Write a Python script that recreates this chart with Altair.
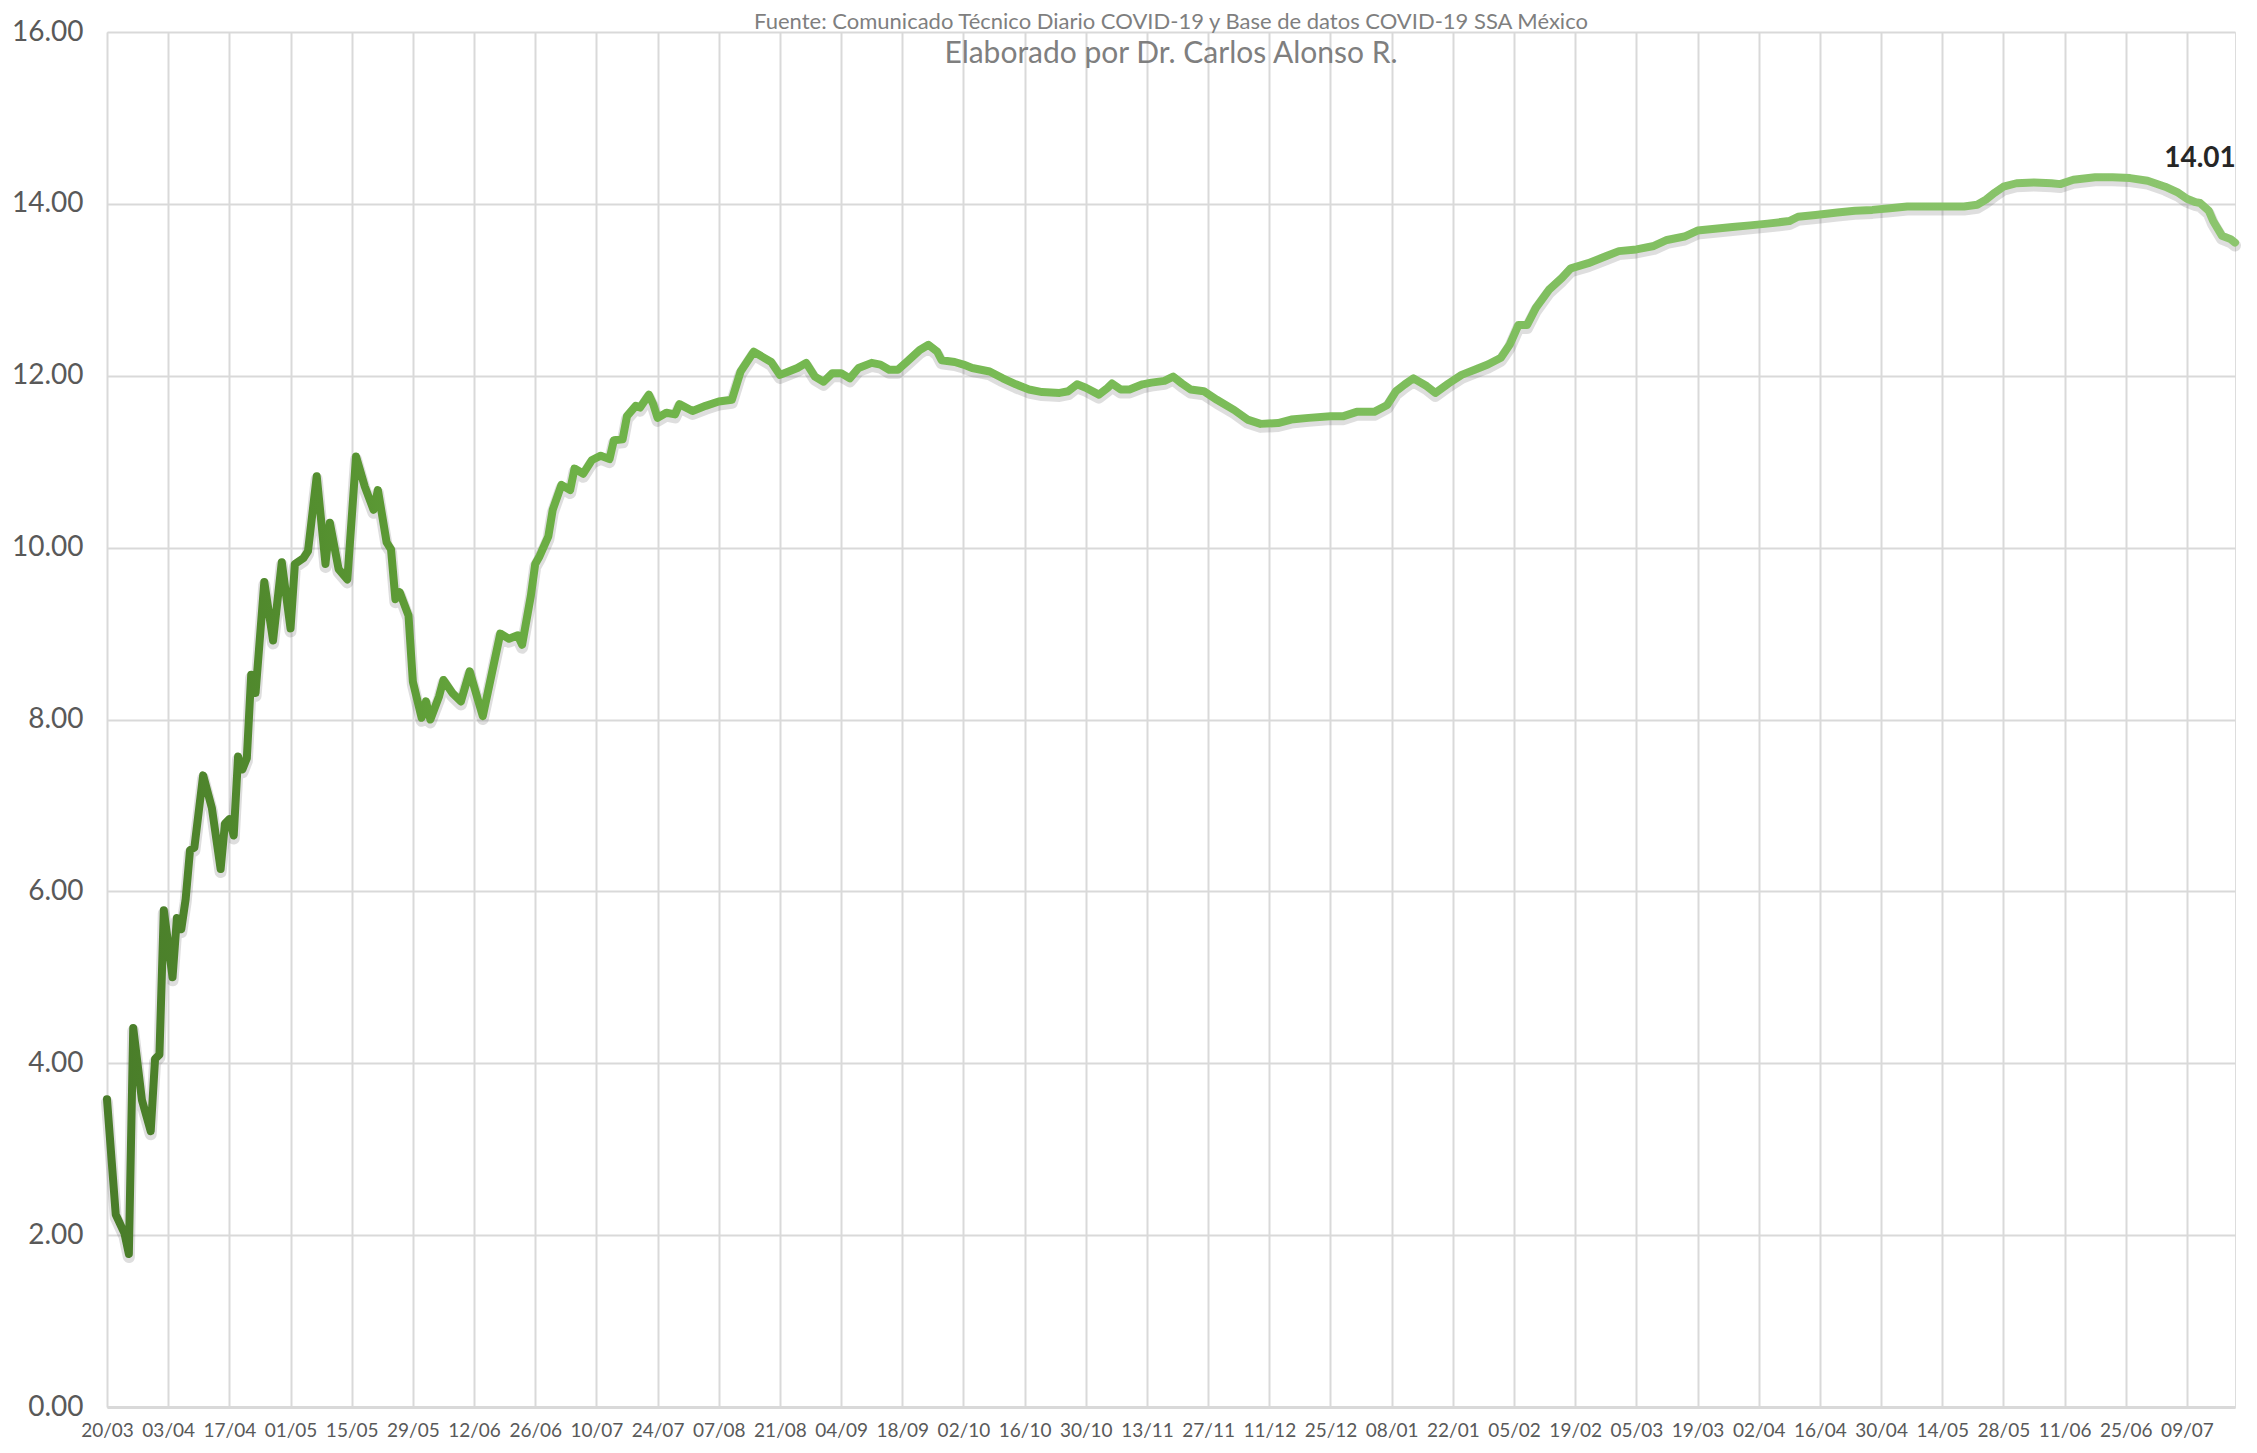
import altair as alt
import pandas as pd

# ---- data ----
start_date = "2020-03-20"
day_offset = [0, 2, 4, 5, 6, 8, 10, 11, 12, 13, 15, 16, 17, 18, 19, 20, 22, 24, 26, 27,
              28, 29, 30, 31, 32, 33, 34, 36, 38, 40, 42, 43, 45, 46, 48, 50, 51, 53, 55, 57,
              59, 61, 62, 64, 65, 66, 67, 69, 70, 72, 73, 74, 76, 77, 79, 81, 83, 85, 86, 88,
              90, 92, 94, 95, 97, 98, 99, 101, 102, 104, 106, 107, 109, 111, 113, 115, 116, 118, 119, 121,
              122, 124, 125, 126, 128, 130, 131, 134, 137, 140, 143, 145, 148, 150, 152, 154, 156, 158, 160, 162,
              164, 166, 168, 170, 172, 175, 177, 179, 181, 183, 186, 188, 190, 191, 194, 196, 198, 200, 202, 205,
              208, 211, 214, 218, 220, 222, 224, 227, 229, 230, 232, 234, 237, 239, 242, 244, 246, 248, 251, 254,
              258, 261, 264, 268, 271, 275, 280, 283, 286, 290, 293, 295, 297, 299, 302, 304, 307, 310, 313, 316,
              319, 321, 323, 325, 327, 330, 333, 335, 339, 343, 346, 350, 354, 357, 361, 364, 368, 372, 376, 380,
              385, 387, 391, 396, 400, 404, 408, 412, 417, 421, 425, 428, 430, 432, 434, 437, 441, 445, 447, 450,
              455, 459, 463, 467, 471, 474, 476, 478, 479, 481, 482, 484, 486, 487]
valor = [3.58, 2.24, 2.02, 1.78, 4.41, 3.57, 3.21, 4.05, 4.10, 5.78, 5.00, 5.69, 5.56, 5.91, 6.48, 6.51, 7.35, 6.97, 6.26, 6.79,
         6.84, 6.65, 7.57, 7.42, 7.55, 8.52, 8.31, 9.60, 8.92, 9.83, 9.06, 9.81, 9.88, 9.96, 10.83, 9.81, 10.29, 9.75, 9.63, 11.06,
         10.71, 10.44, 10.67, 10.06, 9.98, 9.40, 9.48, 9.21, 8.44, 8.02, 8.21, 8.00, 8.27, 8.46, 8.31, 8.21, 8.56, 8.21, 8.04, 8.52,
         9.00, 8.94, 8.98, 8.87, 9.44, 9.81, 9.90, 10.13, 10.44, 10.73, 10.67, 10.92, 10.86, 11.02, 11.07, 11.03, 11.25, 11.26, 11.53, 11.65,
         11.63, 11.78, 11.67, 11.51, 11.57, 11.55, 11.67, 11.59, 11.65, 11.70, 11.72, 12.05, 12.28, 12.22, 12.16, 12.01, 12.05, 12.09, 12.15, 11.99,
         11.93, 12.03, 12.03, 11.97, 12.09, 12.15, 12.13, 12.07, 12.07, 12.16, 12.30, 12.36, 12.28, 12.18, 12.16, 12.13, 12.09, 12.07, 12.05, 11.97,
         11.90, 11.84, 11.81, 11.80, 11.82, 11.90, 11.86, 11.78, 11.86, 11.91, 11.84, 11.84, 11.90, 11.92, 11.94, 11.99, 11.91, 11.84, 11.82, 11.72,
         11.60, 11.49, 11.44, 11.45, 11.49, 11.51, 11.53, 11.53, 11.58, 11.58, 11.66, 11.82, 11.90, 11.97, 11.88, 11.80, 11.91, 12.01, 12.07, 12.13,
         12.21, 12.36, 12.59, 12.59, 12.79, 13.00, 13.14, 13.25, 13.31, 13.39, 13.45, 13.47, 13.51, 13.58, 13.62, 13.69, 13.71, 13.73, 13.75, 13.77,
         13.80, 13.85, 13.87, 13.90, 13.92, 13.93, 13.95, 13.97, 13.97, 13.97, 13.97, 13.99, 14.05, 14.13, 14.20, 14.24, 14.25, 14.24, 14.23, 14.28,
         14.31, 14.31, 14.30, 14.27, 14.20, 14.13, 14.06, 14.02, 14.01, 13.92, 13.80, 13.63, 13.59, 13.55]

label_day = [479]
label_value = [14.01]
label_text = ["14.01"]

y_ticks = [0, 2, 4, 6, 8, 10, 12, 14, 16]
x_tick_count = 35          # every 14 days from 20/03/2020
x_tick_step_days = 14
domain_end = "2021-07-20"

title_line1 = "Fuente: Comunicado Técnico Diario COVID-19 y Base de datos COVID-19 SSA México"
title_line2 = "Elaborado por Dr. Carlos Alonso R."

# ---- tables ----
start = pd.Timestamp(start_date)
df = pd.DataFrame({
    "fecha": [(start + pd.Timedelta(days=d)).strftime("%Y-%m-%dT00:00:00") for d in day_offset],
    "valor": valor,
})
df_label = pd.DataFrame({
    "fecha": [(start + pd.Timedelta(days=d)).strftime("%Y-%m-%dT00:00:00") for d in label_day],
    "valor": label_value,
    "texto": label_text,
})

tick_dates = pd.date_range(start, periods=x_tick_count, freq=f"{x_tick_step_days}D")
x_values = [alt.DateTime(year=int(t.year), month=int(t.month), date=int(t.day)) for t in tick_dates]
end = pd.Timestamp(domain_end)
x_domain = [alt.DateTime(year=start.year, month=start.month, date=start.day),
            alt.DateTime(year=end.year, month=end.month, date=end.day)]

W, H = 2128, 1375
FONT = "Lato"
GRID = "#d9d9d9"

x_enc = alt.X("fecha:T",
              scale=alt.Scale(domain=x_domain, nice=False),
              axis=alt.Axis(values=x_values, format="%d/%m", title=None,
                            labelFont=FONT, labelFontSize=19, labelColor="#595959",
                            labelPadding=14, labelFlush=False, labelOverlap=False,
                            ticks=False, grid=True, gridColor=GRID, gridWidth=2,
                            domainColor=GRID, domainWidth=3))
y_enc = alt.Y("valor:Q",
              scale=alt.Scale(domain=[0, 16], nice=False, zero=True),
              axis=alt.Axis(values=y_ticks, format=".2f", title=None,
                            labelFont=FONT, labelFontSize=28, labelColor="#595959",
                            labelPadding=24, ticks=False, domain=False,
                            grid=True, gridColor=GRID, gridWidth=2))

base = alt.Chart(df)

shadow = base.mark_line(strokeWidth=12, color="#5a5a5a", opacity=0.2, yOffset=3,
                        strokeJoin="round", strokeCap="round").encode(x=x_enc, y=y_enc)

gradient = alt.Gradient(
    gradient="linear",
    stops=[alt.GradientStop(offset=0.0, color="#497c29"),
           alt.GradientStop(offset=0.10, color="#548f2f"),
           alt.GradientStop(offset=0.16, color="#62a23a"),
           alt.GradientStop(offset=0.22, color="#6eb147"),
           alt.GradientStop(offset=0.35, color="#76b952"),
           alt.GradientStop(offset=0.65, color="#7fbe5e"),
           alt.GradientStop(offset=1.0, color="#8cc56e")],
    x1=0, x2=1, y1=0, y2=0,
)
line = base.mark_line(strokeWidth=8, color=gradient,
                      strokeJoin="round", strokeCap="round").encode(x=x_enc, y=y_enc)

label = alt.Chart(df_label).mark_text(font=FONT, fontSize=28, fontWeight="bold",
                                      color="#262626", dy=-44).encode(
    x="fecha:T", y="valor:Q", text="texto:N")

t1 = alt.Chart(df_label).mark_text(text=title_line1, font=FONT, fontSize=22,
                                   color="#7f7f7f").encode(x=alt.value(W / 2), y=alt.value(-10))
t2 = alt.Chart(df_label).mark_text(text=title_line2, font=FONT, fontSize=30,
                                   color="#7f7f7f").encode(x=alt.value(W / 2), y=alt.value(22))

chart = alt.layer(shadow, line, label, t1, t2).properties(
    width=W, height=H,
    autosize=alt.AutoSizeParams(type="none"),
    padding={"left": 99, "top": 24, "right": 12, "bottom": 34},
).configure_view(stroke=None).configure(background="white")

chart.save("out.html", embed_options={"renderer": "svg", "actions": False})
